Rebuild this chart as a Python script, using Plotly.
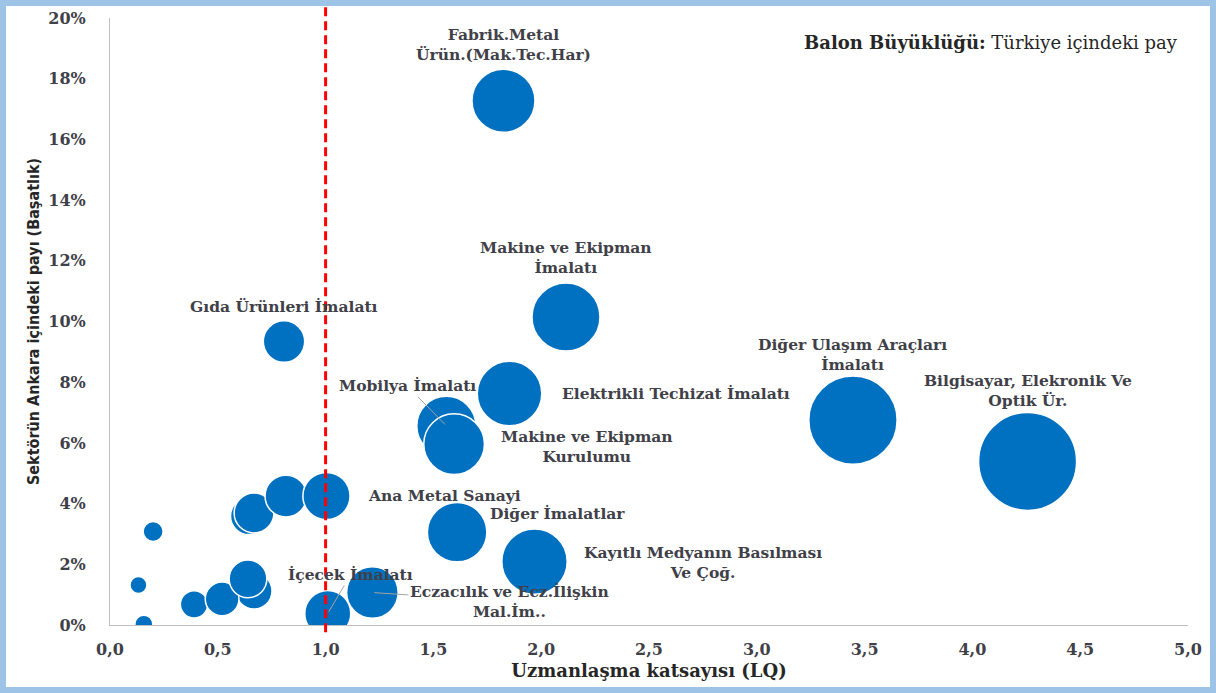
import plotly.graph_objects as go

# sektör adları ("" = etiketsiz balon)
sektorler = [
    "", "", "", "", "", "", "", "", "", "",
    "Ana Metal Sanayi",
    "Gıda Ürünleri İmalatı",
    "İçecek İmalatı",
    "Eczacılık ve Ecz.İlişkin<br>Mal.İm..",
    "Mobilya İmalatı",
    "Makine ve Ekipman<br>Kurulumu",
    "Diğer İmalatlar",
    "Kayıtlı Medyanın Basılması<br>Ve Çoğ.",
    "Elektrikli Techizat İmalatı",
    "Fabrik.Metal<br>Ürün.(Mak.Tec.Har)",
    "Makine ve Ekipman<br>İmalatı",
    "Diğer Ulaşım Araçları<br>İmalatı",
    "Bilgisayar, Elekronik Ve<br>Optik Ür.",
]
# uzmanlaşma katsayısı (LQ)
lq = [0.157, 0.132, 0.20, 0.39, 0.668, 0.52, 0.64, 0.645, 0.668, 0.816,
      1.004, 0.807, 1.01, 1.217, 1.56, 1.596, 1.61, 1.969, 1.853, 1.825,
      2.115, 3.446, 4.256]
# sektörün Ankara içindeki payı (%)
ankara_pay = [0.03, 1.32, 3.08, 0.68, 1.12, 0.86, 1.52, 3.59, 3.69, 4.25,
              4.25, 9.34, 0.38, 1.07, 6.56, 5.96, 3.06, 2.09, 7.63, 17.27,
              10.15, 6.75, 5.39]
# Türkiye içindeki pay (balon büyüklüğü)
turkiye_pay = [0.20, 0.18, 0.25, 0.47, 0.81, 0.71, 0.89, 0.86, 0.99, 1.09,
               1.39, 1.07, 1.32, 1.66, 2.18, 2.30, 2.21, 2.67, 2.60, 2.48,
               2.89, 4.87, 6.00]

W, H = 1216, 693
ML, MR, MT, MB = 110, 28, 18, 68
PW, PH = W - ML - MR, H - MT - MB

FONT = "DejaVu Serif"
TXT = "#404048"
LBL = dict(family=FONT, size=15.5, color=TXT, weight="bold")

fig = go.Figure()
fig.add_trace(go.Scatter(
    x=lq, y=ankara_pay, mode="markers",
    marker=dict(size=turkiye_pay, sizemode="area",
                sizeref=2 * max(turkiye_pay) / 98 ** 2,
                color="#0070C0", opacity=1,
                line=dict(color="white", width=1.5)),
    hoverinfo="skip", showlegend=False,
))

# etiket yerleşimi: ad -> (xanchor, xshift, yshift)
yerlesim = {
    "Ana Metal Sanayi": ("left", 40, 1),
    "Gıda Ürünleri İmalatı": ("center", 0, 35),
    "Diğer İmalatlar": ("center", 100, 19),
    "Kayıtlı Medyanın Basılması<br>Ve Çoğ.": ("center", 168, -1),
    "Elektrikli Techizat İmalatı": ("left", 50, 0),
    "Makine ve Ekipman<br>Kurulumu": ("center", 133, -2),
    "Fabrik.Metal<br>Ürün.(Mak.Tec.Har)": ("center", 0, 56),
    "Makine ve Ekipman<br>İmalatı": ("center", 0, 59),
    "Diğer Ulaşım Araçları<br>İmalatı": ("center", 0, 66),
    "Bilgisayar, Elekronik Ve<br>Optik Ür.": ("center", 0, 71),
}
# çizgili etiketler: ad -> (ax, ay)
oklu = {
    "Mobilya İmalatı": (-39, -40),
    "İçecek İmalatı": (23, -39),
    "Eczacılık ve Ecz.İlişkin<br>Mal.İm..": (137, 9),
}

for ad, xv, yv in zip(sektorler, lq, ankara_pay):
    if ad in yerlesim:
        xa, xs, ys = yerlesim[ad]
        fig.add_annotation(x=xv, y=yv, text=ad, showarrow=False,
                           xanchor=xa, yanchor="middle", xshift=xs, yshift=ys,
                           font=LBL)
    elif ad in oklu:
        ax, ay = oklu[ad]
        fig.add_annotation(x=xv, y=yv, text=ad, showarrow=True,
                           arrowhead=0, arrowwidth=1, arrowcolor="#A6A6A6",
                           ax=ax, ay=ay, standoff=2, font=LBL)

fig.add_annotation(xref="paper", yref="paper", x=(802 - ML) / PW,
                   y=(H - MB - 43) / PH, xanchor="left", yanchor="middle",
                   text="<b>Balon Büyüklüğü:</b> Türkiye içindeki pay",
                   showarrow=False, font=dict(family=FONT, size=18, color="#262626"))

# LQ = 1 eşik çizgisi
fig.add_shape(type="line", xref="x", yref="paper", x0=1, x1=1,
              y0=-0.012, y1=1.023,
              line=dict(color="#FF0000", width=3, dash="9px,5px"))

# dış çerçeve
fig.add_shape(type="rect", xref="paper", yref="paper",
              x0=(3 - ML) / PW, x1=(1213 - ML) / PW,
              y0=(H - MB - 690) / PH, y1=(H - MB - 3) / PH,
              line=dict(color="#9DC3E6", width=6))

fig.update_layout(
    width=W, height=H,
    margin=dict(l=ML, r=MR, t=MT, b=MB, autoexpand=False),
    paper_bgcolor="white", plot_bgcolor="white",
    separators=",.",
    xaxis=dict(range=[0, 5], dtick=0.5, tickformat=".1f",
               showgrid=False, zeroline=False,
               showline=True, linecolor="#BFBFBF", linewidth=1,
               ticks="", ticklabelstandoff=10,
               tickfont=dict(family=FONT, size=16, color=TXT, weight="bold"),
               title=dict(text="<b>Uzmanlaşma katsayısı (LQ)</b>", standoff=6,
                          font=dict(family=FONT, size=18, color="#262626"))),
    yaxis=dict(range=[0, 20], dtick=2, ticksuffix="%",
               showgrid=False, zeroline=False,
               showline=True, linecolor="#BFBFBF", linewidth=1,
               ticks="", ticklabelstandoff=20,
               tickfont=dict(family=FONT, size=16, color=TXT, weight="bold"),
               title=dict(text="<b>Sektörün Ankara içindeki payı (Başatlık)</b>",
                          standoff=4,
                          font=dict(family="Liberation Sans Narrow, DejaVu Sans Condensed, sans-serif",
                                    size=16, color="#262626"))),
)

fig.write_html("out.html", config={"displayModeBar": False},
               post_script="document.body.style.margin='0px';")
